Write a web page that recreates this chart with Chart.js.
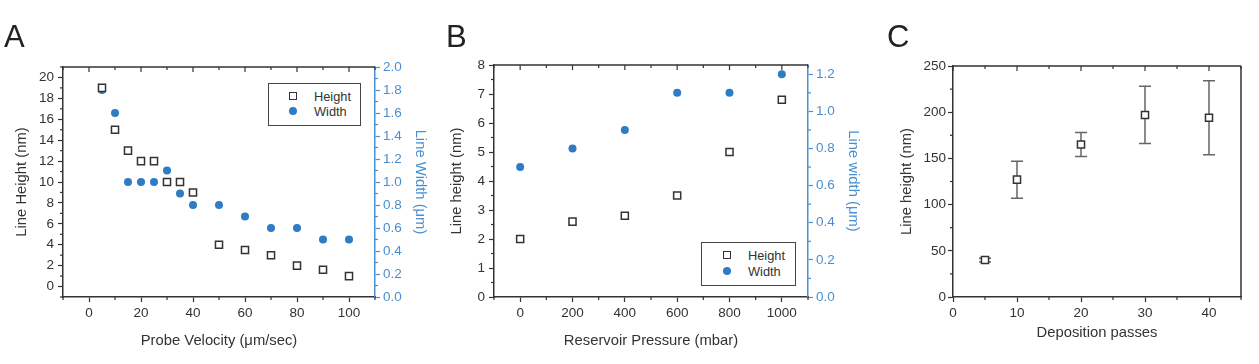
<!DOCTYPE html>
<html>
<head>
<meta charset="utf-8">
<script src="https://cdn.jsdelivr.net/npm/chart.js@4.4.1/dist/chart.umd.min.js"></script>
<style>
  body { margin: 0; background: #fff; width: 1259px; height: 364px; position: relative; overflow: hidden; font-family: "Liberation Sans", Arial, sans-serif; }
  canvas { position: absolute; top: 0; }
  .letter { position: absolute; top: 19px; font-size: 31px; color: #222; }
  .legend { position: absolute; border: 1.5px solid #444; background: #fff; font-size: 12.8px; color: #333; }
  .sq { position: absolute; width: 6px; height: 6px; border: 1.5px solid #333; background: #fff; }
  .dot { position: absolute; width: 8px; height: 8px; border-radius: 50%; background: #2f7bc4; }
  .lab { position: absolute; }
</style>
</head>
<body>
<canvas id="chartA" width="440" height="364" style="left:0px"></canvas>
<canvas id="chartB" width="430" height="364" style="left:440px"></canvas>
<canvas id="chartC" width="389" height="364" style="left:870px"></canvas>

<div class="letter" style="left:4px">A</div>
<div class="letter" style="left:446px">B</div>
<div class="letter" style="left:887px">C</div>

<div class="legend" style="left:268px; top:83px; width:91px; height:41px">
  <span class="sq" style="left:20px; top:8px"></span><span class="lab" style="left:45px; top:5px">Height</span>
  <span class="dot" style="left:20px; top:23px"></span><span class="lab" style="left:45px; top:20px">Width</span>
</div>
<div class="legend" style="left:701px; top:242px; width:93px; height:42px">
  <span class="sq" style="left:21px; top:8px"></span><span class="lab" style="left:46px; top:5px">Height</span>
  <span class="dot" style="left:21px; top:24px"></span><span class="lab" style="left:46px; top:21px">Width</span>
</div>

<script>
// ---- panel A : probe velocity ----
var velocity = [5, 10, 15, 20, 25, 30, 35, 40, 50, 60, 70, 80, 90, 100];
var heightA  = [19, 15, 13, 12, 12, 10, 10, 9, 4, 3.5, 3, 2, 1.6, 1];
var widthA   = [1.8, 1.6, 1.0, 1.0, 1.0, 1.1, 0.9, 0.8, 0.8, 0.7, 0.6, 0.6, 0.5, 0.5];

// ---- panel B : reservoir pressure ----
var pressure = [0, 200, 400, 600, 800, 1000];
var heightB  = [2.0, 2.6, 2.8, 3.5, 5.0, 6.8];
var widthB   = [0.7, 0.8, 0.9, 1.1, 1.1, 1.2];

// ---- panel C : deposition passes ----
var passes   = [5, 10, 20, 30, 40];
var heightC  = [40, 127, 165, 197, 194];
var errorC   = [2, 20, 13, 31, 40];

var dark = '#333';
var blue = '#2f7bc4';
var blueAxis = '#4a8fd0';
var tickFont = { family: 'Liberation Sans', size: 13.5 };
var titleFont = { family: 'Liberation Sans', size: 14.8 };

Chart.defaults.font.family = 'Liberation Sans';
Chart.defaults.animation = false;

function isMultiple(v, step) {
    var r = v / step;
    return Math.abs(r - Math.round(r)) < 1e-6;
}

// build one linear axis; majors get labels, the rest are minor ticks
function axis(opts) {
    var col = opts.color || dark;
    return {
        type: 'linear',
        position: opts.position,
        min: opts.min, max: opts.max,
        afterFit: function (s) {
            if (opts.position === 'bottom') s.height = opts.size; else s.width = opts.size;
        },
        afterBuildTicks: function (s) {
            var t = [];
            for (var v = opts.first; v <= opts.last + 1e-9; v += opts.minor) {
                t.push({ value: Math.round(v * 1000) / 1000 });
            }
            s.ticks = t;
        },
        ticks: {
            color: col,
            font: tickFont,
            padding: opts.pad,
            autoSkip: false,
            maxRotation: 0,
            callback: function (v) {
                if (!isMultiple(v, opts.major)) return '';
                return opts.dec ? v.toFixed(opts.dec) : String(v);
            }
        },
        grid: {
            drawOnChartArea: false,
            drawTicks: true,
            tickLength: 5,
            tickWidth: 1.2,
            tickColor: function (c) {
                return (c.tick && isMultiple(c.tick.value, opts.major)) ? col : 'rgba(0,0,0,0)';
            }
        },
        border: { color: col, width: 1.5 },
        title: {
            display: true,
            text: opts.title,
            color: col,
            font: titleFont,
            padding: opts.titlePad
        }
    };
}

// minor ticks (short, outward), mirror ticks on the top edge, frame, error bars
var decorPlugin = {
    id: 'decor',
    afterDraw: function (chart) {
        var ctx = chart.ctx, a = chart.chartArea;
        ctx.save();
        ctx.lineWidth = 1.2;
        Object.keys(chart.scales).forEach(function (id) {
            var s = chart.scales[id];
            var o = s.options;
            var col = o.border.color;
            ctx.strokeStyle = col;
            s.ticks.forEach(function (t) {
                var major = t.label !== '';
                var p = s.getPixelForValue(t.value);
                ctx.beginPath();
                if (s.isHorizontal()) {
                    if (p < a.left - 0.5 || p > a.right + 0.5) return;
                    if (!major) { ctx.moveTo(p, a.bottom); ctx.lineTo(p, a.bottom + 3); }
                    ctx.moveTo(p, a.top); ctx.lineTo(p, a.top + (major ? 5 : 3));
                } else if (!major) {
                    if (o.position === 'left') { ctx.moveTo(a.left, p); ctx.lineTo(a.left - 3, p); }
                    else { ctx.moveTo(a.right, p); ctx.lineTo(a.right + 3, p); }
                }
                ctx.stroke();
            });
        });
        // frame: top edge, and right edge when there is no right axis
        ctx.strokeStyle = dark;
        ctx.lineWidth = 1.5;
        ctx.beginPath();
        ctx.moveTo(a.left, a.top); ctx.lineTo(a.right, a.top);
        if (!chart.scales.y2) { ctx.moveTo(a.right, a.top); ctx.lineTo(a.right, a.bottom); }
        ctx.stroke();
        ctx.restore();
    },
    beforeDatasetsDraw: function (chart) {
        var ctx = chart.ctx;
        chart.data.datasets.forEach(function (ds, i) {
            if (!ds.errors) return;
            var xs = chart.scales.x, ys = chart.scales.y;
            ctx.save();
            ctx.strokeStyle = '#666';
            ctx.lineWidth = 1.5;
            ds.data.forEach(function (pt, j) {
                var e = ds.errors[j];
                var px = xs.getPixelForValue(pt.x);
                var top = ys.getPixelForValue(pt.y + e);
                var bot = ys.getPixelForValue(pt.y - e);
                ctx.beginPath();
                ctx.moveTo(px, top); ctx.lineTo(px, bot);
                ctx.moveTo(px - 6, top); ctx.lineTo(px + 6, top);
                ctx.moveTo(px - 6, bot); ctx.lineTo(px + 6, bot);
                ctx.stroke();
            });
            ctx.restore();
        });
    }
};

function pts(xs, ys) {
    return xs.map(function (x, i) { return { x: x, y: ys[i] }; });
}

function heightSet(xs, ys) {
    return {
        label: 'Height', data: pts(xs, ys), yAxisID: 'y',
        pointStyle: 'rect', pointRadius: 5, pointBorderWidth: 1.5,
        borderColor: dark, backgroundColor: '#fff', showLine: false
    };
}
function widthSet(xs, ys) {
    return {
        label: 'Width', data: pts(xs, ys), yAxisID: 'y2',
        pointStyle: 'circle', pointRadius: 4, pointBorderWidth: 0,
        borderColor: blue, backgroundColor: blue, showLine: false
    };
}

var baseOpts = function (pad, scales) {
    return {
        responsive: false,
        animation: false,
        layout: { padding: pad },
        plugins: { legend: { display: false }, tooltip: { enabled: false } },
        scales: scales
    };
};

new Chart(document.getElementById('chartA'), {
    type: 'scatter',
    data: { datasets: [heightSet(velocity, heightA), widthSet(velocity, widthA)] },
    options: baseOpts({ top: 67, left: 0, right: 0, bottom: 0 }, {
        x: axis({ position: 'bottom', min: -10, max: 110, first: -10, last: 110, minor: 10, major: 20,
                  size: 67, pad: 3, title: 'Probe Velocity (μm/sec)', titlePad: { top: 0, bottom: 14 } }),
        y: axis({ position: 'left', min: -1, max: 21, first: -1, last: 21, minor: 1, major: 2,
                  size: 63, pad: 4, title: 'Line Height (nm)', titlePad: { top: 13, bottom: 0 } }),
        y2: axis({ position: 'right', min: 0, max: 2, first: 0, last: 2, minor: 0.1, major: 0.2, dec: 1,
                   size: 65, pad: 3, color: blueAxis, title: 'Line Width (μm)', titlePad: { top: 11, bottom: 0 } })
    }),
    plugins: [decorPlugin]
});

new Chart(document.getElementById('chartB'), {
    type: 'scatter',
    data: { datasets: [heightSet(pressure, heightB), widthSet(pressure, widthB)] },
    options: baseOpts({ top: 65, left: 0, right: 0, bottom: 0 }, {
        x: axis({ position: 'bottom', min: -100, max: 1100, first: -100, last: 1100, minor: 100, major: 200,
                  size: 67, pad: 3, title: 'Reservoir Pressure (mbar)', titlePad: { top: 0, bottom: 14 } }),
        y: axis({ position: 'left', min: 0, max: 8, first: 0, last: 8, minor: 0.5, major: 1,
                  size: 54, pad: 4, title: 'Line height (nm)', titlePad: { top: 8, bottom: 0 } }),
        y2: axis({ position: 'right', min: 0, max: 1.25, first: 0, last: 1.2, minor: 0.1, major: 0.2, dec: 1,
                   size: 62, pad: 3, color: blueAxis, title: 'Line width (μm)', titlePad: { top: 8, bottom: 0 } })
    }),
    plugins: [decorPlugin]
});

var setC = heightSet(passes, heightC);
setC.errors = errorC;
new Chart(document.getElementById('chartC'), {
    type: 'scatter',
    data: { datasets: [setC] },
    options: baseOpts({ top: 66, left: 0, right: 18, bottom: 0 }, {
        x: axis({ position: 'bottom', min: 0, max: 45, first: 0, last: 45, minor: 5, major: 10,
                  size: 67, pad: 3, title: 'Deposition passes', titlePad: { top: 0, bottom: 22 } }),
        y: axis({ position: 'left', min: 0, max: 250, first: 0, last: 250, minor: 25, major: 50,
                  size: 83, pad: 2, title: 'Line height (nm)', titlePad: { top: 28, bottom: 0 } })
    }),
    plugins: [decorPlugin]
});
</script>
</body>
</html>
